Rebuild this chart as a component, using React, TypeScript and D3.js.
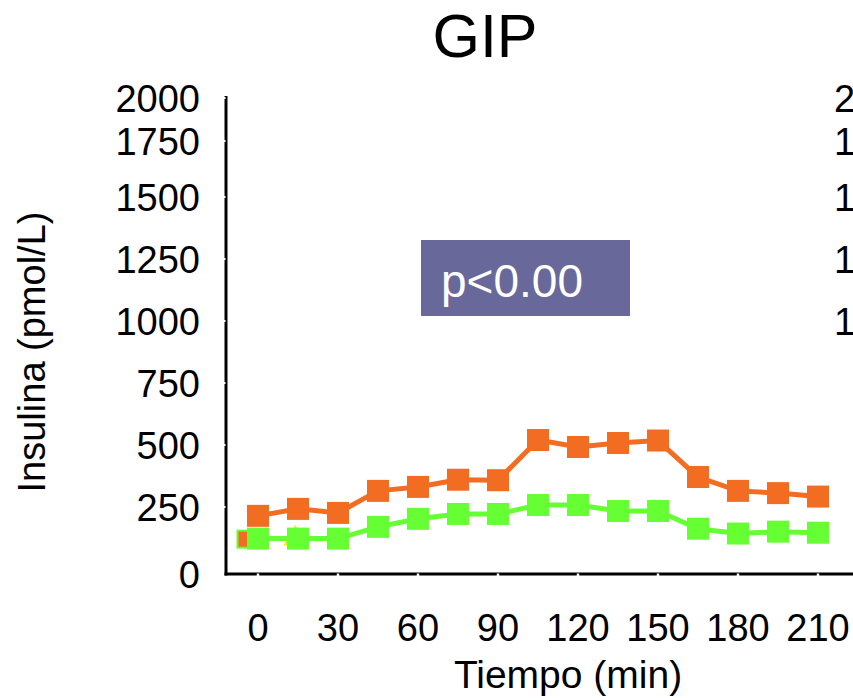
import React from "react";
import { scaleLinear, line, symbol, symbolTriangle } from "d3";

const tiempos = [0, 15, 30, 45, 60, 75, 90, 105, 120, 135, 150, 165, 180, 195, 210];
const insulinaAlta = [217, 243, 228, 315, 331, 360, 358, 520, 492, 508, 518, 371, 315, 306, 292];
const insulinaBaja = [132, 132, 132, 176, 206, 224, 224, 258, 258, 235, 235, 169, 151, 158, 154];
// restos de series tapadas por la verde
const ocultaNaranja = [{ t: -4.5, v: 130 }];
const ocultaAmarilla = [{ t: 14, v: 132 }];

const xTicks = [0, 30, 60, 90, 120, 150, 180, 210];
const yTicks = [0, 250, 500, 750, 1000, 1250, 1500, 1750, 2000];
const yTicksDerecha = [1000, 1250, 1500, 1750, 2000];

const W = 853;
const H = 698;
const font = "'Liberation Sans', Arial, sans-serif";

const x = scaleLinear().domain([0, 210]).range([258, 818]);
const y = scaleLinear().domain([0, 250, 1500, 1750, 2000]).range([574, 507, 197, 141, 98]);

const axisX = 226;
const axisY = 574;

const trazo = line<number>()
  .x((_, i) => x(tiempos[i]))
  .y((d) => y(d));

const naranja = "#F26D21";
const verde = "#66FF33";

const App = () => {
  const sq = 22;
  const tri = symbol(symbolTriangle, 250)();
  return (
    <svg width={W} height={H} style={{ position: "absolute", left: 0, top: 0, background: "#fff" }} fontFamily={font}>
      <text x={485} y={57} fontSize={61} textAnchor="middle">GIP</text>

      {/* eje y */}
      <line x1={axisX} x2={axisX} y1={y(2000) - 2} y2={axisY + 1.5} stroke="#000" strokeWidth={3} />
      {yTicks.map((v) => (
        <text key={v} x={200} y={y(v) + 14} fontSize={38} textAnchor="end">{v}</text>
      ))}
      {yTicks.slice(1).map((v) => (
        <line key={v} x1={axisX - 3} x2={axisX - 0.5} y1={y(v)} y2={y(v)} stroke="#fff" strokeWidth={2} />
      ))}

      {/* eje x */}
      <line x1={axisX - 1.5} x2={W} y1={axisY} y2={axisY} stroke="#000" strokeWidth={3} />
      {xTicks.map((t) => (
        <g key={t}>
          <line x1={x(t)} x2={x(t)} y1={axisY - 0.5} y2={axisY + 2} stroke="#fff" strokeWidth={2.5} />
          <text x={x(t)} y={641} fontSize={38} textAnchor="middle">{t}</text>
        </g>
      ))}

      <text x={568} y={688} fontSize={39} textAnchor="middle">Tiempo (min)</text>
      <text transform={`translate(45,352) rotate(-90)`} fontSize={38} textAnchor="middle">Insulina (pmol/L)</text>

      {/* etiquetas cortadas del panel siguiente */}
      {yTicksDerecha.map((v) => (
        <text key={v} x={834} y={y(v) + 14} fontSize={38}>{v}</text>
      ))}

      <rect x={421} y={240} width={209} height={76} fill="#68689A" />
      <text x={441} y={297} fontSize={46} fill="#fff">p&lt;0.00</text>

      {ocultaNaranja.map((d, i) => (
        <rect key={i} x={x(d.t) - 8.5} y={y(d.v) - 8.5} width={17} height={17} fill={naranja} stroke={verde} strokeWidth={2} />
      ))}
      {ocultaAmarilla.map((d, i) => (
        <path key={i} d={tri} transform={`translate(${x(d.t)},${y(d.v)})`} fill="#FFEE00" />
      ))}

      <path d={trazo(insulinaAlta) || ""} fill="none" stroke={naranja} strokeWidth={5} />
      {insulinaAlta.map((v, i) => (
        <rect key={i} x={x(tiempos[i]) - sq / 2} y={y(v) - sq / 2} width={sq} height={sq} fill={naranja} />
      ))}

      <path d={trazo(insulinaBaja) || ""} fill="none" stroke={verde} strokeWidth={5} />
      {insulinaBaja.map((v, i) => (
        <rect key={i} x={x(tiempos[i]) - sq / 2} y={y(v) - sq / 2} width={sq} height={sq} fill={verde} />
      ))}
    </svg>
  );
};

export default App;
